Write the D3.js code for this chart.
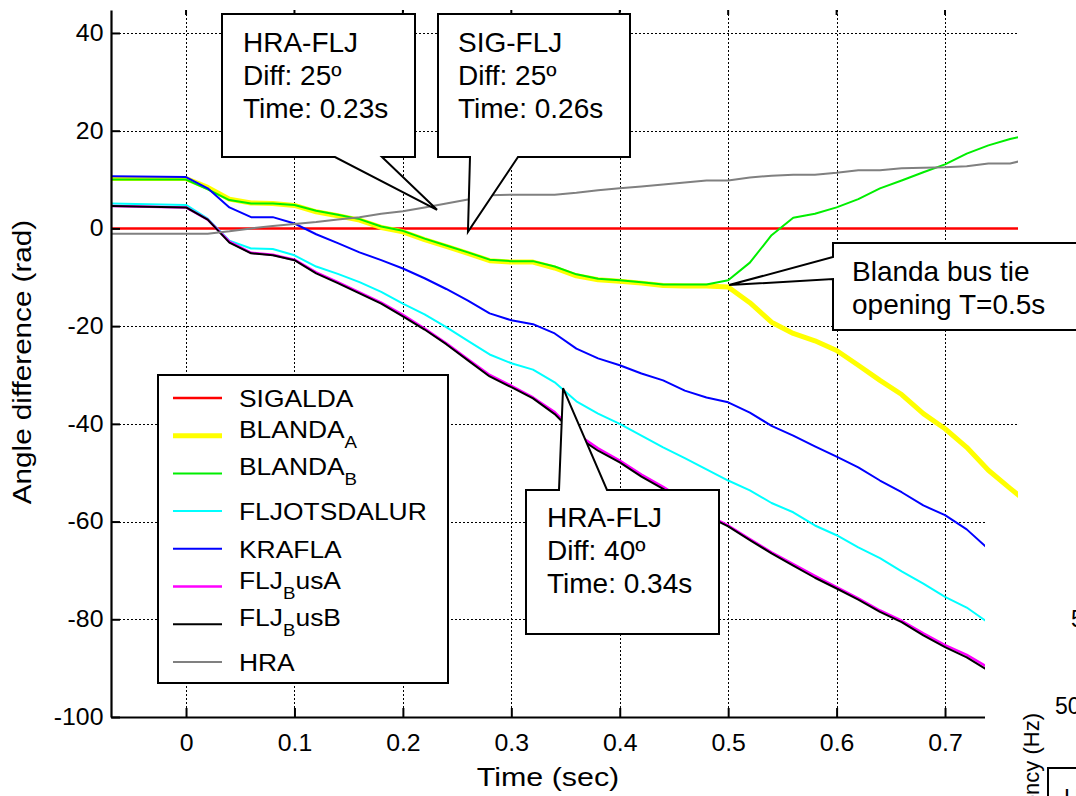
<!DOCTYPE html>
<html>
<head>
<meta charset="utf-8">
<script src="https://cdn.jsdelivr.net/npm/d3@7"></script>
<style>
  body { margin: 0; background: #fff; }
  svg { display: block; font-family: "Liberation Sans", Arial, sans-serif; }
</style>
</head>
<body>
<div id="chart"></div>
<script>
// sample times (sec)
const time = [-0.07, 0, 0.02, 0.04, 0.06, 0.08, 0.10, 0.12, 0.14, 0.16,
    0.18, 0.20, 0.22, 0.24, 0.26, 0.28, 0.30, 0.32, 0.34, 0.36,
    0.38, 0.40, 0.42, 0.44, 0.46, 0.48, 0.50, 0.52, 0.54, 0.56,
    0.58, 0.60, 0.62, 0.64, 0.66, 0.68, 0.70, 0.72, 0.74, 0.76,
    0.77];

// angle differences per station
const sigalda = [0, 0, 0, 0, 0, 0, 0, 0, 0, 0,
    0, 0, 0, 0, 0, 0, 0, 0, 0, 0,
    0, 0, 0, 0, 0, 0, 0, 0, 0, 0,
    0, 0, 0, 0, 0, 0, 0, 0, 0, 0,
    0];
const blandaA = [10.2, 10.2, 8.4, 6.0, 5.2, 5.1, 4.7, 3.4, 2.6, 1.7,
    0.2, -0.7, -2.3, -3.7, -5.1, -6.6, -6.9, -6.9, -8.1, -9.7,
    -10.5, -10.8, -11.2, -11.7, -11.8, -11.8, -12.0, -15.2, -19.2, -21.5,
    -23.0, -25.0, -28.0, -31.1, -34.0, -37.9, -41.0, -44.8, -49.5, -53.2,
    -55.0];
const blandaB = [10.0, 10.0, 8.0, 5.8, 5.1, 5.1, 4.8, 3.6, 2.8, 1.9,
    0.4, -0.5, -2.1, -3.5, -4.9, -6.4, -6.7, -6.7, -7.8, -9.4,
    -10.3, -10.6, -11.0, -11.5, -11.5, -11.5, -10.6, -7.0, -1.4, 2.2,
    3.0, 4.3, 6.0, 8.2, 9.8, 11.5, 13.1, 15.3, 17.0, 18.3,
    18.8];
const fljotsdalur = [5.1, 4.8, 2.0, -2.5, -4.1, -4.2, -5.5, -7.8, -9.3, -11.0,
    -13.0, -15.4, -17.6, -20.2, -23.0, -25.8, -27.6, -28.9, -31.5, -35.4,
    -37.9, -40.0, -42.4, -44.8, -47.0, -49.3, -51.6, -53.6, -56.2, -58.1,
    -60.8, -62.8, -65.3, -67.5, -70.2, -72.7, -75.4, -77.6, -80.7, -83.0,
    -84.2];
const krafla = [10.7, 10.5, 8.2, 4.3, 2.3, 2.3, 1.0, -1.2, -3.0, -4.9,
    -6.5, -8.2, -10.2, -12.4, -14.8, -17.4, -18.8, -19.6, -21.5, -24.6,
    -26.6, -28.0, -29.7, -31.1, -33.2, -34.6, -35.6, -37.7, -40.4, -42.4,
    -44.6, -46.7, -48.9, -51.6, -54.0, -56.7, -58.7, -61.6, -65.6, -69.0,
    -70.8];
const fljBusA = [4.6, 4.3, 1.8, -2.7, -5.0, -5.4, -6.4, -9.0, -11.0, -13.1,
    -15.2, -17.7, -20.5, -23.5, -26.8, -30.0, -32.2, -34.6, -37.6, -42.0,
    -45.0, -47.5, -50.4, -52.9, -55.7, -58.6, -60.8, -63.6, -66.3, -68.7,
    -71.1, -73.4, -75.7, -78.2, -80.3, -82.9, -85.3, -87.3, -89.9, -92.4,
    -93.6];
const fljBusB = [4.6, 4.3, 1.8, -2.9, -5.1, -5.5, -6.5, -9.2, -11.2, -13.3,
    -15.4, -18.0, -20.7, -23.7, -27.0, -30.3, -32.5, -34.8, -38.0, -42.5,
    -45.5, -47.9, -50.8, -53.3, -56.0, -58.8, -61.0, -63.8, -66.5, -69.0,
    -71.5, -73.7, -76.0, -78.5, -80.6, -83.3, -85.7, -87.8, -90.5, -93.0,
    -94.2];
const hra = [-1.1, -1.1, -1.1, -0.6, 0.0, 0.5, 0.9, 1.3, 1.8, 2.3,
    3.0, 3.5, 4.3, 5.1, 5.9, 6.8, 6.9, 6.9, 6.9, 7.3,
    7.8, 8.2, 8.6, 9.0, 9.4, 9.8, 9.8, 10.4, 10.8, 11.0,
    11.0, 11.4, 11.9, 11.9, 12.3, 12.4, 12.5, 12.7, 13.3, 13.3,
    13.8];

// legend labels ("_" = next char subscript, as in the original TeX labels)
const seriesNames = ["SIGALDA", "BLANDA_A", "BLANDA_B", "FLJOTSDALUR", "KRAFLA", "FLJ_BusA", "FLJ_BusB", "HRA"];

const xTicks = [0, 0.1, 0.2, 0.3, 0.4, 0.5, 0.6, 0.7];
const yTicks = [40, 20, 0, -20, -40, -60, -80, -100];

// callout texts and where they point (time, angle)
const calloutText = [
    ["HRA-FLJ", "Diff: 25º", "Time: 0.23s"],
    ["SIG-FLJ", "Diff: 25º", "Time: 0.26s"],
    ["Blanda bus tie", "opening T=0.5s"],
    ["HRA-FLJ", "Diff: 40º", "Time: 0.34s"]
];
const calloutTips = [[0.2315, 3.8], [0.26, -0.7], [0.5008, -11.6], [0.3477, -32.7]];

const W = 1076, H = 796;
const plot = {left: 111, right: 1018, top: 10, bottom: 717};
const FONT = "'Liberation Sans', Arial, sans-serif";

const svg = d3.select("#chart").append("svg")
    .attr("width", W)
    .attr("height", H);

const x = d3.scaleLinear().domain([-0.0692, 0.7673]).range([plot.left, plot.right]);
const y = d3.scaleLinear().domain([-100, 44.7]).range([plot.bottom, plot.top]);

svg.append("defs").append("clipPath").attr("id", "plotClip")
    .append("rect")
    .attr("x", plot.left).attr("y", plot.top)
    .attr("width", plot.right - plot.left)
    .attr("height", plot.bottom - plot.top);

// dotted grid
const px = v => Math.round(v) + 0.5;
const grid = svg.append("g")
    .attr("stroke", "#000")
    .attr("stroke-width", 1.6)
    .attr("stroke-dasharray", "2,2")
    .attr("shape-rendering", "crispEdges");
grid.selectAll("line.gx").data(xTicks).join("line").attr("class", "gx")
    .attr("x1", d => px(x(d))).attr("x2", d => px(x(d)))
    .attr("y1", plot.top).attr("y2", plot.bottom);
grid.selectAll("line.gy").data(yTicks).join("line").attr("class", "gy")
    .attr("x1", plot.left).attr("x2", plot.right)
    .attr("y1", d => px(y(d))).attr("y2", d => px(y(d)));

// series
const series = [
    {values: sigalda, color: "#ff0000", width: 2.5},
    {values: blandaA, color: "#ffff00", width: 5},
    {values: blandaB, color: "#00ee00", width: 2},
    {values: fljotsdalur, color: "#00ffff", width: 2},
    {values: krafla, color: "#0000ff", width: 2},
    {values: fljBusA, color: "#ff00ff", width: 2.5},
    {values: fljBusB, color: "#000000", width: 2},
    {values: hra, color: "#808080", width: 2}
];
series.forEach((s, i) => s.name = seriesNames[i]);

const line = d3.line()
    .x((d, i) => x(time[i]))
    .y(d => y(d));

svg.append("g")
    .attr("clip-path", "url(#plotClip)")
    .selectAll("path")
    .data(series)
    .join("path")
    .attr("d", d => line(d.values))
    .attr("fill", "none")
    .attr("stroke", d => d.color)
    .attr("stroke-width", d => d.width)
    .attr("stroke-linejoin", "round");

// axes
const yAxis = svg.append("g")
    .attr("transform", `translate(${plot.left},0)`)
    .call(d3.axisLeft(y).tickValues(yTicks).tickFormat(d => String(d))
        .tickSize(-9).tickSizeOuter(0).tickPadding(7));
const xAxis = svg.append("g")
    .attr("transform", `translate(0,${plot.bottom})`)
    .call(d3.axisBottom(x).tickValues(xTicks).tickFormat(d => String(d))
        .tickSize(-9).tickSizeOuter(0).tickPadding(18));

[yAxis, xAxis].forEach(ax => {
    ax.attr("font-family", FONT).attr("font-size", 23);
    ax.select(".domain").attr("stroke-width", 2.2);
    ax.selectAll(".tick line").attr("stroke-width", 2);
    ax.selectAll(".tick text").attr("fill", "#000").attr("transform", "scale(1.08,1)");
});

// little ticks on top edge
svg.append("g").selectAll("line").data(xTicks).join("line")
    .attr("x1", d => x(d)).attr("x2", d => x(d))
    .attr("y1", plot.top).attr("y2", plot.top + 5)
    .attr("stroke", "#000").attr("stroke-width", 2);

svg.append("text")
    .attr("transform", `translate(548,786) scale(1.17,1)`)
    .attr("text-anchor", "middle")
    .attr("font-size", 26)
    .text("Time (sec)");

svg.append("text")
    .attr("transform", "translate(31,362) rotate(-90) scale(1.14,1)")
    .attr("text-anchor", "middle")
    .attr("font-size", 26)
    .text("Angle difference (rad)");

// neighbouring figure overlaps the lower right corner
const nb = svg.append("g");
nb.append("rect").attr("x", 985).attr("y", 505).attr("width", W - 985).attr("height", H - 505).attr("fill", "#fff");
nb.append("text").attr("x", 1071).attr("y", 627).attr("font-size", 23).text("5");
nb.append("text").attr("x", 1055).attr("y", 714).attr("font-size", 23).text("50");
nb.append("text")
    .attr("transform", "translate(1039,713) rotate(-90)")
    .attr("text-anchor", "end")
    .attr("font-size", 22)
    .text("Frequency (Hz)");
nb.append("path").attr("d", "M1048,800V768H1080").attr("fill", "none").attr("stroke", "#000").attr("stroke-width", 2);
nb.append("text").attr("x", 1064).attr("y", 806).attr("font-size", 23).text("H");

// legend
const legend = svg.append("g").attr("transform", "translate(158,375)");
legend.append("rect")
    .attr("width", 290).attr("height", 308)
    .attr("fill", "#fff").attr("stroke", "#000").attr("stroke-width", 2);

const item = legend.selectAll("g.item").data(series).join("g")
    .attr("class", "item")
    .attr("transform", (d, i) => `translate(0,${23 + i * 37.7})`);
item.append("line")
    .attr("x1", 15).attr("x2", 64)
    .attr("stroke", d => d.color)
    .attr("stroke-width", d => d.width);
item.each(function (d) {
    const parts = d.name.split("_");
    const t = d3.select(this).append("text")
        .attr("transform", `translate(81,${parts.length > 1 ? 2 : 9}) scale(1.1,1)`)
        .attr("font-size", 24);
    t.append("tspan").text(parts[0]);
    parts.slice(1).forEach(p => {
        t.append("tspan").attr("dy", 10).attr("font-size", 17).text(p[0]);
        if (p.length > 1) t.append("tspan").attr("dy", -10).text(p.slice(1));
    });
});

// callouts
function callout(pts, lines, tx, ty, dy) {
    const g = svg.append("g");
    g.append("path")
        .attr("d", "M" + pts.map(p => p.join(",")).join("L") + "Z")
        .attr("fill", "#fff").attr("stroke", "#000").attr("stroke-width", 2)
        .attr("stroke-linejoin", "miter");
    g.append("text").attr("font-size", 28)
        .selectAll("tspan").data(lines).join("tspan")
        .attr("x", tx).attr("y", (d, i) => ty + i * dy)
        .text(d => d);
}
const tip = k => [x(calloutTips[k][0]), y(calloutTips[k][1])];

callout([[222, 14], [415, 14], [415, 157], [382, 157], tip(0), [335, 157], [222, 157]],
    calloutText[0], 243, 52, 33);
callout([[438, 14], [630, 14], [630, 157], [518, 157], tip(1), [470, 157], [438, 157]],
    calloutText[1], 458, 52, 33);
callout([[833, 243], [1090, 243], [1090, 330], [833, 330], [833, 279], tip(2), [833, 257]],
    calloutText[2], 852, 281, 33);
callout([[526, 490], [559, 490], tip(3), [607, 490], [719, 490], [719, 634], [526, 634]],
    calloutText[3], 547, 527, 33);
</script>
</body>
</html>
